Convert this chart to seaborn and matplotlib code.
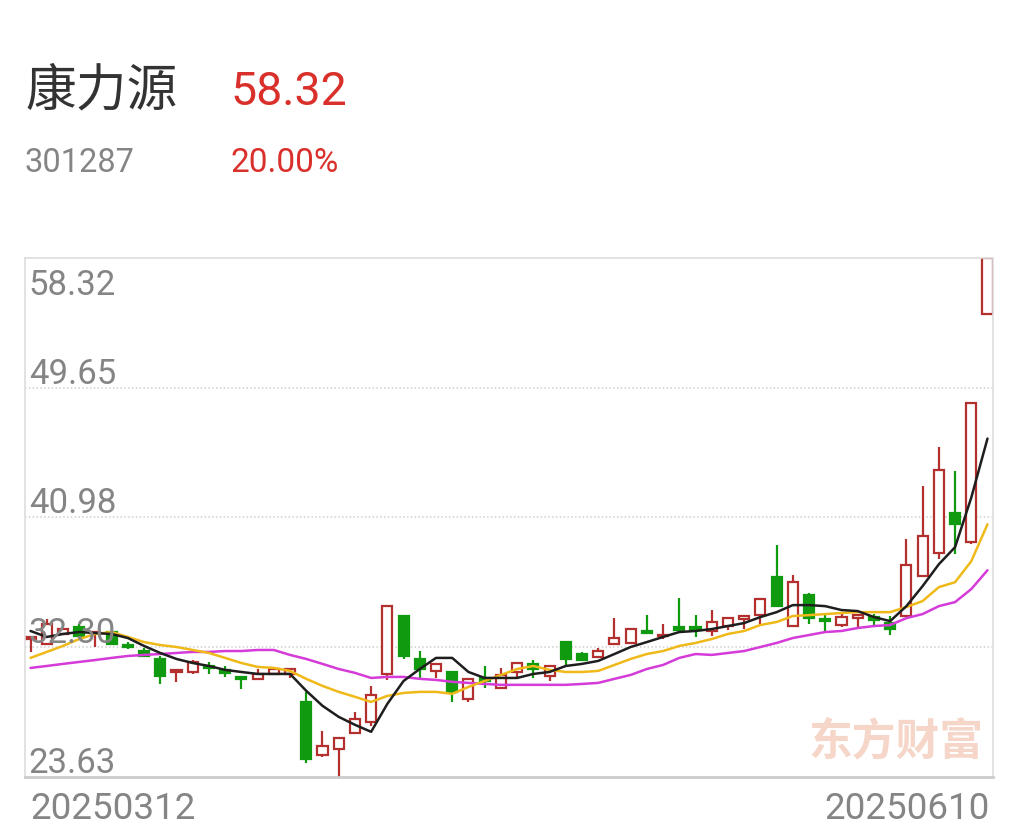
import numpy as np
import pandas as pd
import matplotlib
matplotlib.use("Agg")
import matplotlib.pyplot as plt
import matplotlib.transforms as mtransforms
import seaborn as sns

# ---------------- data ----------------
stock_name = "康力源"
stock_code = "301287"
last_price = "58.32"
pct_change = "20.00%"

opens = [32.85, 32.52, 33.19, 33.65, 33.25, 33.32, 32.45, 32.05, 31.52, 30.65,
         30.65, 31.05, 30.79, 30.32, 30.19, 30.52, 30.52, 28.65, 25.12, 25.52,
         26.59, 27.32, 30.52, 34.39, 31.52, 30.72, 30.65, 28.85, 30.25, 29.59,
         30.65, 31.19, 30.39, 32.65, 31.85, 31.65, 32.52, 32.59, 33.39, 33.05,
         33.65, 33.65, 33.39, 33.72, 34.19, 34.45, 36.99, 33.72, 35.79, 34.19,
         33.79, 34.25, 34.32, 33.92, 34.39, 37.05, 38.59, 41.25, 39.32, 54.59]
highs = [33.05, 34.19, 33.60, 33.85, 33.35, 33.40, 32.65, 32.25, 31.72, 30.80,
         31.45, 31.32, 31.05, 30.35, 30.85, 31.00, 30.92, 29.32, 26.72, 26.25,
         27.99, 29.72, 35.05, 34.39, 32.05, 31.25, 30.65, 30.25, 31.05, 30.92,
         31.30, 31.45, 31.10, 32.70, 31.99, 32.25, 34.25, 33.60, 34.45, 33.85,
         35.60, 34.45, 34.79, 34.32, 34.45, 35.60, 39.12, 37.12, 35.92, 34.45,
         34.59, 34.45, 34.52, 34.39, 39.52, 43.05, 45.72, 44.05, 48.65, 58.32]
lows = [32.00, 32.45, 33.10, 32.95, 32.32, 32.45, 32.19, 31.70, 29.85, 29.99,
        30.52, 30.52, 30.32, 29.52, 30.15, 30.45, 30.25, 24.59, 25.00, 23.63,
        26.50, 27.05, 30.12, 31.50, 30.25, 30.25, 28.65, 28.65, 29.59, 29.55,
        30.25, 30.25, 30.05, 31.12, 31.40, 31.60, 32.45, 32.50, 33.20, 32.85,
        33.39, 32.99, 33.05, 33.45, 33.52, 33.85, 34.99, 33.70, 33.85, 33.32,
        33.65, 33.65, 33.79, 33.12, 34.32, 36.99, 38.19, 38.52, 39.19, 54.59]
closes = [33.00, 33.85, 33.52, 33.05, 33.32, 32.52, 32.35, 31.72, 30.39, 30.75,
          31.32, 30.92, 30.59, 30.19, 30.52, 30.85, 30.85, 24.85, 25.72, 26.25,
          27.52, 29.12, 35.05, 31.72, 30.85, 31.19, 29.32, 30.19, 30.05, 30.45,
          31.25, 30.85, 31.05, 31.52, 31.45, 32.05, 32.92, 33.52, 33.25, 33.12,
          33.45, 33.45, 33.99, 34.25, 34.39, 35.52, 35.05, 36.65, 34.25, 34.05,
          34.32, 34.45, 34.12, 33.52, 37.79, 39.72, 44.12, 40.52, 48.60, 58.32]

ma5 = [33.39, 32.99, 33.19, 33.32, 33.25, 33.19, 32.92, 32.39, 31.92, 31.52,
       31.25, 31.05, 30.79, 30.65, 30.52, 30.52, 30.52, 29.39, 28.39, 27.65,
       27.12, 26.65, 28.52, 30.05, 30.85, 31.59, 31.59, 30.65, 30.25, 30.25,
       30.25, 30.52, 30.65, 31.05, 31.19, 31.39, 31.85, 32.32, 32.65, 32.99,
       33.32, 33.39, 33.52, 33.72, 33.92, 34.32, 34.65, 35.12, 35.12, 35.05,
       34.79, 34.72, 34.32, 34.05, 35.05, 36.39, 37.85, 38.99, 42.30, 46.25]
ma10 = [31.59, 31.99, 32.39, 32.85, 33.19, 33.32, 32.99, 32.65, 32.45, 32.32,
        32.12, 31.92, 31.59, 31.25, 30.99, 30.92, 30.72, 30.19, 29.72, 29.32,
        28.99, 28.65, 29.05, 29.25, 29.32, 29.32, 29.19, 29.65, 30.05, 30.45,
        30.85, 31.05, 30.79, 30.65, 30.65, 30.72, 31.12, 31.52, 31.85, 32.05,
        32.39, 32.59, 32.85, 33.19, 33.39, 33.79, 33.99, 34.39, 34.45, 34.52,
        34.59, 34.65, 34.65, 34.65, 34.99, 35.39, 36.32, 36.65, 38.05, 40.52]
ma20 = [30.92, 31.05, 31.19, 31.32, 31.45, 31.59, 31.72, 31.79, 31.85, 31.92,
        31.99, 31.99, 32.05, 32.05, 32.12, 32.12, 31.79, 31.52, 31.19, 30.85,
        30.59, 30.25, 30.32, 30.32, 30.19, 30.12, 29.99, 29.92, 29.85, 29.79,
        29.79, 29.79, 29.79, 29.79, 29.85, 29.92, 30.19, 30.45, 30.85, 31.12,
        31.59, 31.85, 31.79, 31.92, 32.05, 32.32, 32.59, 32.92, 33.12, 33.32,
        33.39, 33.59, 33.72, 33.79, 34.25, 34.52, 35.05, 35.32, 36.19, 37.45]

ytick_values = [58.32, 49.65, 40.98, 32.30, 23.63]
ytick_labels = ["58.32", "49.65", "40.98", "32.30", "23.63"]
xtick_labels = ["20250312", "20250610"]
watermark = "东方财富"

# ---------------- style ----------------
sns.set_theme(style="white")
plt.rcParams['font.family'] = ['Roboto', 'Noto Sans CJK SC', 'DejaVu Sans']

RED = "#b3302e"
GREEN = "#109a10"
HEAD_RED = "#d9302b"
GRAY = "#858585"

W, H = 1020, 838
fig = plt.figure(figsize=(W / 100, H / 100), dpi=100)
ax_l, ax_r, ax_t, ax_b = 25, 993, 258, 777
ax = fig.add_axes([ax_l / W, 1 - ax_b / H, (ax_r - ax_l) / W, (ax_b - ax_t) / H])

df = pd.DataFrame({"open": opens, "high": highs, "low": lows, "close": closes,
                   "ma5": ma5, "ma10": ma10, "ma20": ma20})
df["idx"] = np.arange(len(df))
n = len(df)

ax.set_xlim(-0.34, n - 1 + 0.34)
ax.set_ylim(min(ytick_values), max(ytick_values))

# grid lines
for v in ytick_values[1:-1]:
    ax.axhline(v, color="#cfcfcf", lw=1.1, ls=(0, (1, 1.5)), zorder=0)

# watermark
fig.text(808 / W, 1 - 742 / H, watermark, fontsize=31.5, fontweight="bold",
         color="#f6d6c8", family=["Noto Sans CJK SC"], ha="left", va="center", zorder=0)

# candles
up = df["close"] >= df["open"]
bw = 0.62
lw = 1.6
for is_up, color, face in [(True, RED, "white"), (False, GREEN, GREEN)]:
    sub = df[up == is_up]
    body_lo = np.minimum(sub["open"], sub["close"])
    body_hi = np.maximum(sub["open"], sub["close"])
    ax.vlines(sub["idx"], sub["low"], body_lo, color=color, lw=lw, zorder=2)
    ax.vlines(sub["idx"], body_hi, sub["high"], color=color, lw=lw, zorder=2)
    ax.bar(sub["idx"], body_hi - body_lo, bottom=body_lo, width=bw,
           facecolor=face, edgecolor=color, linewidth=lw, zorder=2)

# moving averages
sns.lineplot(data=df, x="idx", y="ma20", color="#d43bd8", lw=1.8, ax=ax, zorder=3)
sns.lineplot(data=df, x="idx", y="ma10", color="#f0b91a", lw=1.8, ax=ax, zorder=3)
sns.lineplot(data=df, x="idx", y="ma5", color="#1e1e1e", lw=1.8, ax=ax, zorder=4)

ax.set_xticks([])
ax.set_yticks([])
ax.set_xlabel("")
ax.set_ylabel("")
for s in ["left", "right", "top"]:
    ax.spines[s].set_color("#dddddd")
    ax.spines[s].set_linewidth(1.2)
ax.spines["bottom"].set_color("#cccccc")
ax.spines["bottom"].set_linewidth(2.0)

# y labels inside the plot
ytrans = ax.get_yaxis_transform()
for v, lab in zip(ytick_values, ytick_labels):
    if v == max(ytick_values):
        tr = mtransforms.offset_copy(ytrans, fig=fig, x=0, y=-37 * 0.72, units="points")
    else:
        tr = mtransforms.offset_copy(ytrans, fig=fig, x=0, y=4 * 0.72, units="points")
    ax.text(0.004, v, lab, transform=tr, fontsize=25, color=GRAY,
            ha="left", va="baseline", zorder=5)

# x labels below
fig.text(30 / W, 1 - 819 / H, xtick_labels[0], fontsize=26.5, color=GRAY, ha="left", va="baseline")
fig.text(990 / W, 1 - 819 / H, xtick_labels[1], fontsize=26.5, color=GRAY, ha="right", va="baseline")

# header
fig.text(25 / W, 1 - 105 / H, stock_name, fontsize=36.5, color="#333333",
         family=["Noto Sans CJK SC"], ha="left", va="baseline")
fig.text(230 / W, 1 - 105 / H, last_price, fontsize=33.5, color=HEAD_RED, ha="left", va="baseline")
fig.text(25 / W, 1 - 172 / H, stock_code, fontsize=23.5, color=GRAY, ha="left", va="baseline")
fig.text(231 / W, 1 - 172 / H, pct_change, fontsize=24, color=HEAD_RED, ha="left", va="baseline")

fig.savefig("out.png", dpi=100, facecolor="white")
